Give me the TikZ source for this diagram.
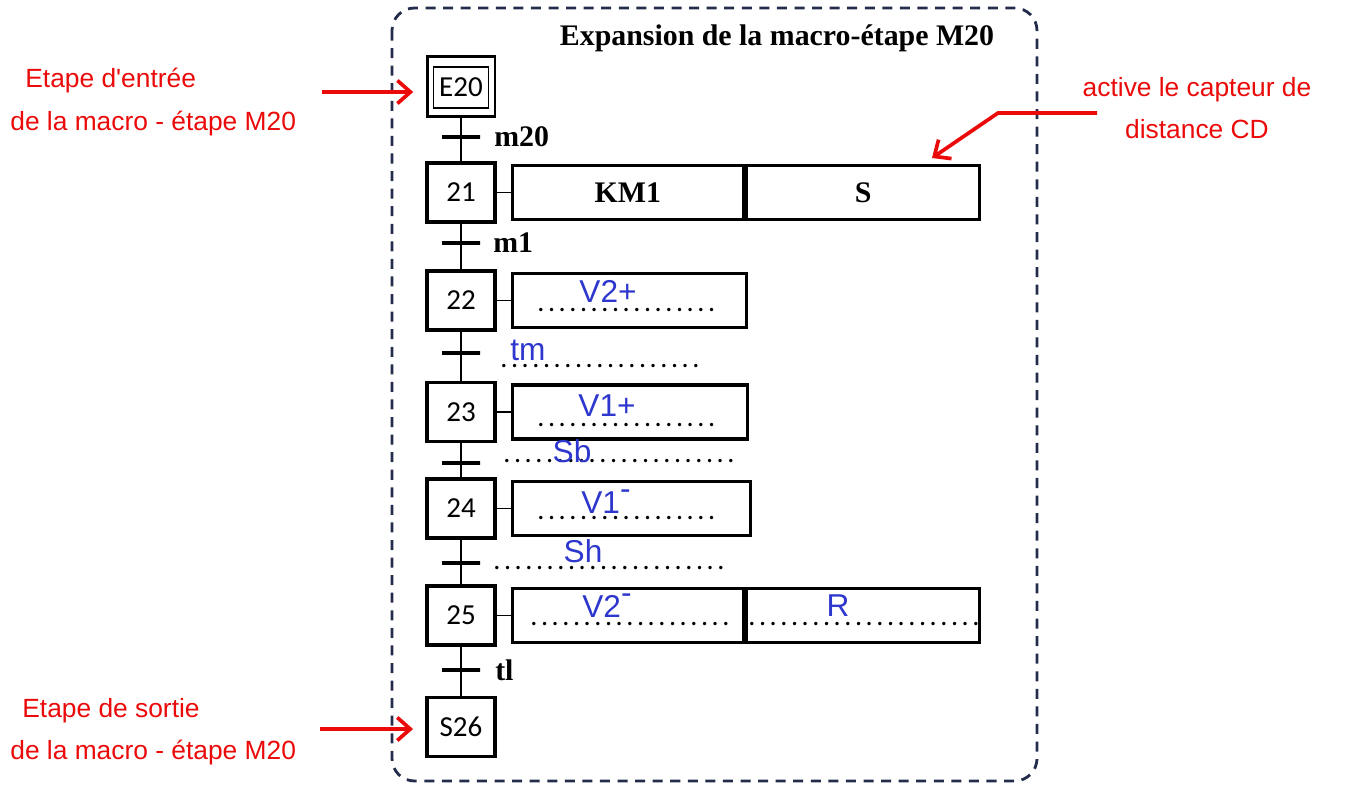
\documentclass[tikz,border=0pt]{standalone}
\usepackage{fontspec}
\setmainfont{Liberation Serif}
\newfontfamily\calibri{Carlito}
\newfontfamily\manuscrit{Liberation Sans}
\usetikzlibrary{arrows.meta, positioning, calc}
\usepackage{xcolor}
\definecolor{cadrecolor}{RGB}{35,45,75}
\definecolor{rougenote}{RGB}{235,10,10}
\definecolor{bleunote}{RGB}{45,55,205}
\tikzset{
    etape/.style={rectangle, draw, line width=1.9pt, minimum width=1.36cm,
        minimum height=1.18cm, inner sep=0pt, font=\calibri\fontsize{16.5}{18}\selectfont},
    action/.style={rectangle, draw, line width=1.9pt, minimum height=1.08cm,
        inner sep=0pt, font=\bfseries\fontsize{17}{20}\selectfont},
    transition/.style={rectangle, draw, line width=2.2pt, minimum width=0.76cm,
        minimum height=0pt, inner sep=0pt},
    receptivite/.style={font=\bfseries\fontsize{17}{20}\selectfont, inner sep=0pt},
    liaison/.style={line width=1.1pt},
    pointilles/.style={font=\calibri\fontsize{16}{18}\selectfont, inner sep=0pt, anchor=base west},
    bleu/.style={text=bleunote, font=\manuscrit\fontsize{18}{20}\selectfont, inner sep=0pt},
    note/.style={text=rougenote, font=\manuscrit\fontsize{15}{24}\selectfont, inner sep=0pt},
    fleche/.style={draw=rougenote, line width=2.1pt, -{Straight Barb[length=2.6mm, width=4.6mm]}},
    cadre/.style={draw=cadrecolor, line width=1.6pt, dash pattern=on 5.7pt off 4.3pt,
        rounded corners=0.45cm}
}
\newcommand{\lignepts}[1]{\foreach \k in {1,...,#1}{.\kern2.04pt}}

\begin{document}
\begin{tikzpicture}[x=0.02cm, y=-0.02cm, node distance=0.28cm]

    \useasboundingbox (0,0) rectangle (1349,785);

    \draw[cadre] (392,8) rectangle (1037,781);
    \node[receptivite, anchor=base] (titre) at (777,45) {Expansion de la macro-étape M20};

    \node[etape, minimum width=1.36cm, minimum height=1.2cm, line width=1.7pt] (e20) at (461,86.5) {};
    \node[etape, minimum width=1.1cm, minimum height=0.82cm, line width=0.9pt] (e20i) at (461,87.5) {E20};
    \node[etape] (s21) at (461,192.5) {21};
    \node[etape] (s22) at (461,300.5) {22};
    \node[etape] (s23) at (461,412) {23};
    \node[etape] (s24) at (461,508.5) {24};
    \node[etape] (s25) at (461,615.5) {25};
    \node[etape] (s26) at (461,727) {S26};

    \draw[liaison] (e20) -- (s21) -- (s22) -- (s23) -- (s24) -- (s25) -- (s26);

    \node[transition] (t1) at (461,137) {};
    \node[transition] (t2) at (461,243) {};
    \node[transition] (t3) at (461,353) {};
    \node[transition] (t4) at (461,463) {};
    \node[transition] (t5) at (461,563) {};
    \node[transition] (t6) at (461,670) {};

    \node[receptivite, right=0.24cm of t1] (r1) {m20};
    \node[receptivite, right=0.22cm of t2] (r2) {m1};
    \node[receptivite, right=0.26cm of t6] (r6) {tl};

    \node[action, minimum width=4.62cm, right=of s21] (a21a) {KM1};
    \node[action, minimum width=4.66cm, anchor=west] (a21b) at (a21a.east) {S};
    \node[action, minimum width=4.68cm, right=of s22] (a22) {};
    \node[action, minimum width=4.7cm, right=of s23] (a23) {};
    \node[action, minimum width=4.76cm, right=of s24] (a24) {};
    \node[action, minimum width=4.62cm, right=of s25] (a25a) {};
    \node[action, minimum width=4.66cm, anchor=west] (a25b) at (a25a.east) {};

    \foreach \s/\a in {s21/a21a, s22/a22, s23/a23, s24/a24, s25/a25a}
        \draw[liaison] (\s.east) -- (\s.east -| \a.west);

    \node[pointilles] (d22) at (537,311) {\lignepts{17}};
    \node[pointilles] (d3) at (500,367) {\lignepts{19}};
    \node[pointilles] (d23) at (537,426) {\lignepts{17}};
    \node[pointilles] (d4) at (503,462) {\lignepts{22}};
    \node[pointilles] (d24) at (537,519) {\lignepts{17}};
    \node[pointilles] (d5) at (493,569) {\lignepts{22}};
    \node[pointilles] (d25a) at (530,625) {\lignepts{19}};
    \node[pointilles] (d25b) at (748,625) {\lignepts{22}};

    \node[bleu] (h22) at (608,291) {V2+};
    \node[bleu] (h3) at (528,350) {tm};
    \node[bleu] (h23) at (607,406) {V1+};
    \node[bleu] (h4) at (572,451) {Sb};
    \node[bleu] (h24) at (606,502) {V1\raisebox{0.45em}{-}};
    \node[bleu] (h5) at (583,551) {Sh};
    \node[bleu] (h25a) at (607,606) {V2\raisebox{0.45em}{-}};
    \node[bleu] (h25b) at (838,606) {R};

    \node[note, align=left, anchor=west] (nentree) at (10,102) {\hspace*{0.3cm}Etape d'entrée\\de la macro - étape M20};
    \node[note, align=left, anchor=west] (nsortie) at (10,732) {\hspace*{0.24cm}Etape de sortie\\de la macro - étape M20};
    \node[note, align=center] (ncapteur) at (1197,108) {active le capteur de\\distance CD};

    \coordinate (aE) at (322,92);
    \coordinate (aS) at (320,729);
    \coordinate (aC) at (1097,113);
    \coordinate (kC) at (998,113);
    \coordinate (pC) at (932,158);

    \draw[fleche, shorten >=7pt] (aE) -- (aE -| e20.west);
    \draw[fleche, shorten >=7pt] (aS) -- (aS -| s26.west);
    \draw[fleche] (aC) -- (kC) -- (pC);

\end{tikzpicture}
\end{document}
